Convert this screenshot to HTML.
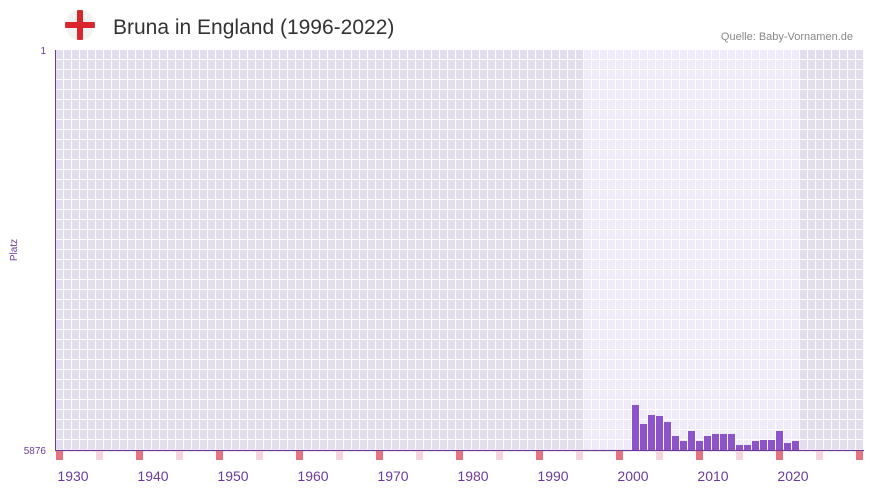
<!DOCTYPE html>
<html><head><meta charset="utf-8"><style>
body{margin:0;background:#fff;font-family:"Liberation Sans",sans-serif;}
</style></head><body>
<svg width="873" height="492" xmlns="http://www.w3.org/2000/svg" font-family="Liberation Sans, sans-serif">
<defs>
<pattern id="pd" x="56" y="50" width="8" height="10" patternUnits="userSpaceOnUse"><rect width="8" height="10" fill="#fff"/><rect x="0" y="0" width="7" height="9" fill="#e3deed"/></pattern>
<pattern id="pl" x="56" y="50" width="8" height="10" patternUnits="userSpaceOnUse"><rect width="8" height="10" fill="#fff"/><rect x="0" y="0" width="7" height="9" fill="#efebfa"/></pattern>
<clipPath id="fc"><circle cx="80" cy="25" r="15"/></clipPath>
</defs>
<g clip-path="url(#fc)">
<circle cx="80" cy="25" r="15" fill="#f2f2f2"/>
<rect x="65" y="22" width="30" height="6" fill="#d9252e"/>
<rect x="77" y="10" width="6" height="30" fill="#d9252e"/>
</g>
<text x="113" y="34" font-size="21" fill="#333">Bruna in England (1996-2022)</text>
<text x="853" y="40" font-size="11" fill="#888" text-anchor="end">Quelle: Baby-Vornamen.de</text>
<rect x="56" y="50" width="808" height="400" fill="url(#pd)"/>
<rect x="584" y="50" width="216" height="400" fill="url(#pl)"/>
<line x1="55.5" y1="50" x2="55.5" y2="451" stroke="#6a3d9a" stroke-width="1"/>
<line x1="55" y1="450.5" x2="864" y2="450.5" stroke="#6a3d9a" stroke-width="1.3"/>
<text x="46" y="54" font-size="10" fill="#6a3d9a" text-anchor="end">1</text>
<text x="46" y="454" font-size="10" fill="#6a3d9a" text-anchor="end">5876</text>
<text transform="translate(17,250) rotate(-90)" font-size="10" fill="#6a3d9a" text-anchor="middle">Platz</text>
<g fill="#8e53c8">
<rect x="632" y="405" width="7" height="45"/>
<rect x="640" y="424" width="7" height="26"/>
<rect x="648" y="415" width="7" height="35"/>
<rect x="656" y="416" width="7" height="34"/>
<rect x="664" y="422" width="7" height="28"/>
<rect x="672" y="436" width="7" height="14"/>
<rect x="680" y="441" width="7" height="9"/>
<rect x="688" y="431" width="7" height="19"/>
<rect x="696" y="441" width="7" height="9"/>
<rect x="704" y="436" width="7" height="14"/>
<rect x="712" y="434" width="7" height="16"/>
<rect x="720" y="434" width="7" height="16"/>
<rect x="728" y="434" width="7" height="16"/>
<rect x="736" y="445" width="7" height="5"/>
<rect x="744" y="445" width="7" height="5"/>
<rect x="752" y="441" width="7" height="9"/>
<rect x="760" y="440" width="7" height="10"/>
<rect x="768" y="440" width="7" height="10"/>
<rect x="776" y="431" width="7" height="19"/>
<rect x="784" y="443" width="7" height="7"/>
<rect x="792" y="441" width="7" height="9"/>
</g>
<g fill="#e8727f">
<rect x="56" y="451" width="7" height="9"/>
<rect x="136" y="451" width="7" height="9"/>
<rect x="216" y="451" width="7" height="9"/>
<rect x="296" y="451" width="7" height="9"/>
<rect x="376" y="451" width="7" height="9"/>
<rect x="456" y="451" width="7" height="9"/>
<rect x="536" y="451" width="7" height="9"/>
<rect x="616" y="451" width="7" height="9"/>
<rect x="696" y="451" width="7" height="9"/>
<rect x="776" y="451" width="7" height="9"/>
<rect x="856" y="451" width="7" height="9"/>
</g>
<g fill="#f5d5de">
<rect x="96" y="451" width="7" height="9"/>
<rect x="176" y="451" width="7" height="9"/>
<rect x="256" y="451" width="7" height="9"/>
<rect x="336" y="451" width="7" height="9"/>
<rect x="416" y="451" width="7" height="9"/>
<rect x="496" y="451" width="7" height="9"/>
<rect x="576" y="451" width="7" height="9"/>
<rect x="656" y="451" width="7" height="9"/>
<rect x="736" y="451" width="7" height="9"/>
<rect x="816" y="451" width="7" height="9"/>
</g>
<g font-size="14" fill="#6a3d9a" text-anchor="middle">
<text x="73" y="481">1930</text>
<text x="153" y="481">1940</text>
<text x="233" y="481">1950</text>
<text x="313" y="481">1960</text>
<text x="393" y="481">1970</text>
<text x="473" y="481">1980</text>
<text x="553" y="481">1990</text>
<text x="633" y="481">2000</text>
<text x="713" y="481">2010</text>
<text x="793" y="481">2020</text>
</g>
</svg>
</body></html>
